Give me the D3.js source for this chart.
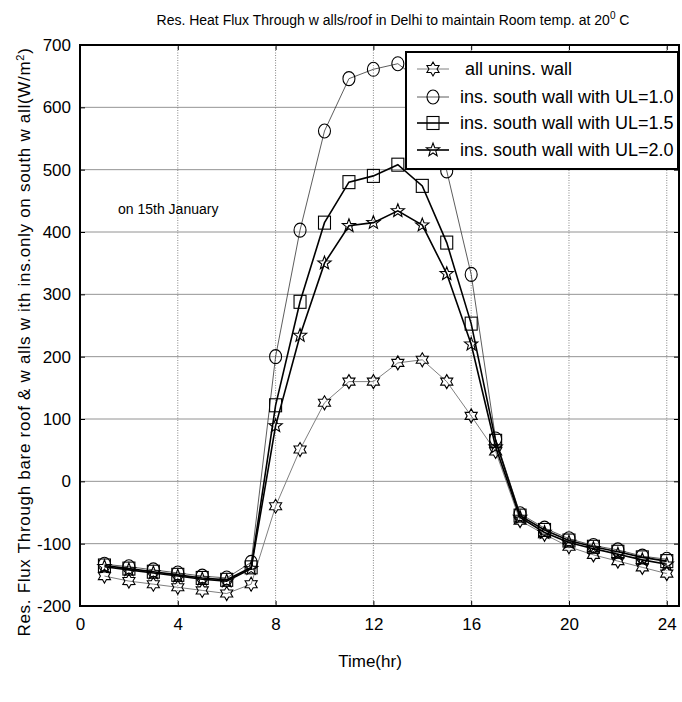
<!DOCTYPE html>
<html lang="en">
<head>
<meta charset="UTF-8" />
<title>Res. Heat Flux</title>
<script src="https://d3js.org/d3.v7.min.js"></script>
<style>
  body { margin: 0; background: #fff; }
  text { font-family: "Liberation Sans", Arial, sans-serif; fill: #000; }
</style>
</head>
<body>
<div id="chart"></div>
<script>
// hours of the day
const hours = [1,2,3,4,5,6,7,8,9,10,11,12,13,14,15,16,17,18,19,20,21,22,23,24];
// residual heat flux (W/m2)
const unins = [-152,-160,-165,-170,-175,-180,-165,-40,51,126,160,160,190,195,160,105,48,-63,-85,-105,-118,-128,-138,-148];
const ul10  = [-133,-137,-142,-147,-152,-155,-130,200,403,562,646,661,670,640,498,332,68,-52,-75,-92,-103,-110,-120,-125];
const ul15  = [-135,-140,-145,-150,-155,-158,-138,122,288,415,480,490,508,474,383,253,65,-55,-78,-95,-105,-113,-122,-128];
const ul20  = [-137,-142,-147,-152,-157,-160,-140,89,234,350,410,415,434,411,333,220,55,-58,-82,-98,-108,-117,-126,-133];

const xTicks = [0,4,8,12,16,20,24];
const yTicks = [-200,-100,0,100,200,300,400,500,600,700];
const seriesNames = ["all unins. wall","ins. south wall with UL=1.0","ins. south wall with UL=1.5","ins. south wall with UL=2.0"];

const W = 682, H = 702;
const mLeft = 80, mRight = 679, mTop = 45, mBottom = 606;

const svg = d3.select("#chart").append("svg")
  .attr("width", W).attr("height", H);

const x = d3.scaleLinear().domain([0, 24.5]).range([mLeft, mRight]);
const y = d3.scaleLinear().domain([-200, 700]).range([mBottom, mTop]);

// grid
svg.append("g").selectAll("line").data(yTicks.slice(1, -1)).enter().append("line")
  .attr("x1", mLeft).attr("x2", mRight)
  .attr("y1", d => y(d)).attr("y2", d => y(d))
  .attr("stroke", "#777").attr("stroke-width", 0.8);
svg.append("g").selectAll("line").data(xTicks.slice(1)).enter().append("line")
  .attr("x1", d => x(d)).attr("x2", d => x(d))
  .attr("y1", mTop).attr("y2", mBottom)
  .attr("stroke", "#666").attr("stroke-width", 0.8).attr("stroke-dasharray", "1,1.5");

// axes with inward ticks (hyphen for negatives, as in the original)
const fmt = d => String(d);
const xAxis = svg.append("g").attr("transform", `translate(0,${mBottom})`)
  .call(d3.axisBottom(x).tickValues(xTicks).tickFormat(fmt).tickSizeInner(-5).tickSizeOuter(0).tickPadding(12));
const yAxis = svg.append("g").attr("transform", `translate(${mLeft},0)`)
  .call(d3.axisLeft(y).tickValues(yTicks).tickFormat(fmt).tickSizeInner(-5).tickSizeOuter(0).tickPadding(9));
svg.append("g").attr("transform", `translate(0,${mTop})`)
  .call(d3.axisTop(x).tickValues(xTicks).tickSizeInner(-5).tickSizeOuter(0).tickFormat(""))
  .select(".domain").remove();
svg.append("g").attr("transform", `translate(${mRight},0)`)
  .call(d3.axisRight(y).tickValues(yTicks).tickSizeInner(-5).tickSizeOuter(0).tickFormat(""))
  .select(".domain").remove();
[xAxis, yAxis].forEach(a => {
  a.selectAll("text").style("font-size", "17px").style("font-family", "'Liberation Sans', Arial, sans-serif");
  a.select(".domain").remove();
});
svg.selectAll(".tick line").attr("stroke", "#000").attr("stroke-width", 1);

// frame
svg.append("rect").attr("x", mLeft).attr("y", mTop)
  .attr("width", mRight - mLeft).attr("height", mBottom - mTop)
  .attr("fill", "none").attr("stroke", "#000").attr("stroke-width", 2);

// marker shapes
function hexagram(r) {
  const pts = [];
  for (let i = 0; i < 12; i++) {
    const a = -Math.PI / 2 + i * Math.PI / 6;
    const rr = i % 2 === 0 ? r : r * 0.58;
    pts.push([rr * Math.cos(a), rr * Math.sin(a)]);
  }
  return "M" + pts.map(p => p.join(",")).join("L") + "Z";
}
function star5(r) {
  const pts = [];
  for (let i = 0; i < 10; i++) {
    const a = -Math.PI / 2 + i * Math.PI / 5;
    const rr = i % 2 === 0 ? r : r * 0.42;
    pts.push([rr * Math.cos(a), rr * Math.sin(a)]);
  }
  return "M" + pts.map(p => p.join(",")).join("L") + "Z";
}
const markers = [
  g => g.append("path").attr("d", hexagram(7)),
  g => g.append("ellipse").attr("rx", 6).attr("ry", 7),
  g => g.append("rect").attr("x", -6).attr("y", -6.5).attr("width", 12).attr("height", 13),
  g => g.append("path").attr("d", star5(7))
];
const lineStyles = [
  { stroke: "#808080", width: 1 },
  { stroke: "#333", width: 0.8 },
  { stroke: "#000", width: 1.6 },
  { stroke: "#000", width: 1.6 }
];
const allSeries = [unins, ul10, ul15, ul20];

const line = d3.line().x(d => x(d[0])).y(d => y(d[1]));
allSeries.forEach((vals, i) => {
  const pts = hours.map((h, j) => [h, vals[j]]);
  svg.append("path").datum(pts).attr("d", line)
    .attr("fill", "none").attr("stroke", lineStyles[i].stroke)
    .attr("stroke-width", lineStyles[i].width);
  const mg = svg.append("g");
  pts.forEach(p => {
    const g = mg.append("g").attr("transform", `translate(${x(p[0])},${y(p[1])})`);
    markers[i](g).attr("fill", "none").attr("stroke", "#000").attr("stroke-width", 1.1);
  });
});

// legend
const lg = svg.append("g");
lg.append("rect").attr("x", 406).attr("y", 52).attr("width", 272).attr("height", 117)
  .attr("fill", "#fff").attr("stroke", "#000").attr("stroke-width", 2);
const rowY = [69, 97, 123, 150];
seriesNames.forEach((name, i) => {
  lg.append("line").attr("x1", 417).attr("x2", 449).attr("y1", rowY[i]).attr("y2", rowY[i])
    .attr("stroke", lineStyles[i].stroke).attr("stroke-width", lineStyles[i].width);
  const g = lg.append("g").attr("transform", `translate(433,${rowY[i]})`);
  markers[i](g).attr("fill", "none").attr("stroke", "#000").attr("stroke-width", 1.1);
  lg.append("text").attr("x", i === 0 ? 465 : 460).attr("y", rowY[i]).attr("dy", "0.35em")
    .style("font-size", "18px").text(name);
});

// title
const title = svg.append("text").attr("x", 393).attr("y", 25).attr("text-anchor", "middle")
  .style("font-size", "14px");
title.append("tspan").text("Res. Heat  Flux Through w alls/roof in Delhi to maintain Room temp. at 20");
title.append("tspan").attr("dy", -6).style("font-size", "10px").text("0");
title.append("tspan").attr("dy", 6).text(" C");

// annotation
svg.append("text").attr("x", 118).attr("y", 214).style("font-size", "14px").text("on 15th January");

// axis labels
svg.append("text").attr("x", 370).attr("y", 667).attr("text-anchor", "middle")
  .style("font-size", "17px").text("Time(hr)");
const yl = svg.append("text").attr("transform", "translate(30,342) rotate(-90)")
  .attr("text-anchor", "middle").style("font-size", "17px").style("letter-spacing", "0.7px");
yl.append("tspan").text("Res. Flux Through bare roof & w alls w ith ins.only on south w all(W/m");
yl.append("tspan").attr("dy", -6).style("font-size", "11px").text("2");
yl.append("tspan").attr("dy", 6).text(")");
</script>
</body>
</html>
